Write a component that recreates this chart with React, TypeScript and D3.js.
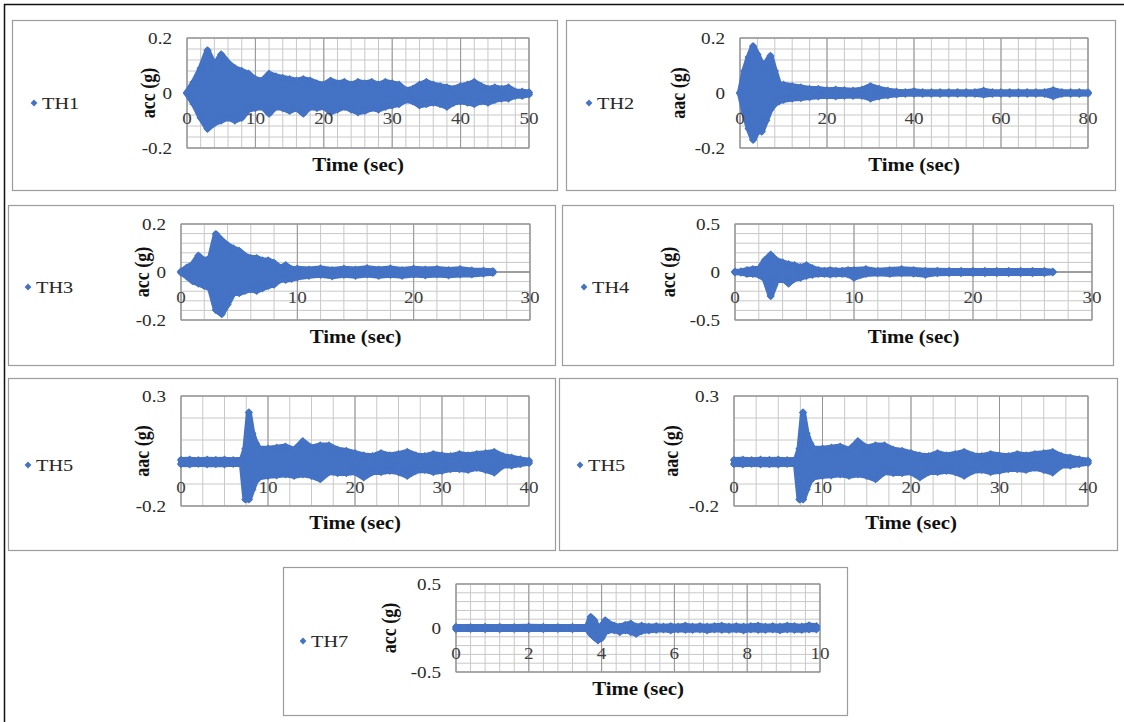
import React from 'react';
import * as d3 from 'd3';

const BLUE = '#4472C4';
const FONT = "'Liberation Serif','Times New Roman',serif";
const SX = 1.16;

// ---------- data (acceleration envelopes, g) ----------
const TH1_TIME = [0,1,2,3,4,5,6,7,8,9,10,11,12,13,14,15,16,17,18,19,20,21,22,23,24,25,26,27,28,29,30,31,32,33,34,35,36,37,38,39,40,41,42,43,44,45,46,47,48,49,50];
const TH1_UPPER = [0.002,0.04,0.09,0.155,0.10,0.14,0.11,0.09,0.08,0.07,0.05,0.045,0.07,0.06,0.055,0.05,0.045,0.05,0.045,0.035,0.03,0.045,0.035,0.04,0.03,0.04,0.035,0.04,0.03,0.04,0.035,0.03,0.01,0.015,0.03,0.04,0.03,0.025,0.02,0.015,0.025,0.03,0.04,0.025,0.015,0.02,0.015,0.02,0.005,0.005,0.002];
const TH1_LOWER = [-0.002,-0.04,-0.09,-0.13,-0.11,-0.10,-0.09,-0.10,-0.09,-0.06,-0.055,-0.05,-0.075,-0.05,-0.055,-0.065,-0.055,-0.075,-0.05,-0.055,-0.05,-0.07,-0.06,-0.05,-0.06,-0.07,-0.065,-0.055,-0.06,-0.05,-0.045,-0.04,-0.025,-0.03,-0.045,-0.04,-0.035,-0.04,-0.05,-0.035,-0.03,-0.035,-0.04,-0.03,-0.035,-0.025,-0.02,-0.02,-0.01,-0.01,-0.005];

const TH2_TIME = [0,1,2,3,4,5,6,7,8,9,10,12,14,16,18,20,22,24,26,28,30,32,34,36,38,40,42,44,46,48,50,52,54,56,58,60,62,64,66,68,70,72,74,76,78,80];
const TH2_UPPER = [0.002,0.08,0.13,0.17,0.14,0.105,0.11,0.135,0.08,0.03,0.03,0.025,0.02,0.015,0.015,0.01,0.012,0.01,0.008,0.012,0.025,0.015,0.008,0.005,0.003,0.006,0.003,0.003,0.003,0.003,0.003,0.003,0.003,0.008,0.003,0.003,0.003,0.003,0.003,0.003,0.003,0.01,0.003,0.003,0.003,0.002];
const TH2_LOWER = [-0.002,-0.07,-0.13,-0.17,-0.14,-0.14,-0.10,-0.06,-0.04,-0.03,-0.025,-0.02,-0.018,-0.015,-0.012,-0.01,-0.012,-0.01,-0.01,-0.01,-0.02,-0.012,-0.008,-0.005,-0.003,-0.003,-0.003,-0.003,-0.003,-0.003,-0.003,-0.003,-0.003,-0.006,-0.003,-0.003,-0.003,-0.003,-0.003,-0.003,-0.003,-0.012,-0.003,-0.003,-0.003,-0.002];

const TH3_TIME = [0,0.5,1,1.5,2,2.5,3,3.5,4,4.5,5,5.5,6,6.5,7,7.5,8,8.5,9,9.5,10,11,12,13,14,15,16,17,18,19,20,21,22,23,24,25,26,26.8];
const TH3_UPPER = [0.002,0.018,0.032,0.068,0.048,0.058,0.158,0.132,0.112,0.098,0.088,0.068,0.058,0.058,0.048,0.048,0.038,0.018,0.028,0.012,0.014,0.01,0.015,0.008,0.014,0.01,0.016,0.01,0.015,0.008,0.014,0.01,0.013,0.008,0.012,0.006,0.005,0.003];
const TH3_LOWER = [-0.002,-0.018,-0.038,-0.048,-0.058,-0.068,-0.158,-0.175,-0.135,-0.088,-0.088,-0.078,-0.072,-0.078,-0.068,-0.058,-0.052,-0.032,-0.032,-0.028,-0.022,-0.016,-0.012,-0.018,-0.012,-0.016,-0.01,-0.016,-0.012,-0.016,-0.01,-0.014,-0.01,-0.014,-0.01,-0.01,-0.006,-0.003];

const TH4_TIME = [0,0.5,1,1.5,2,2.5,3,3.5,4,4.5,5,5.5,6,6.5,7,7.5,8,8.5,9,9.5,10,11,12,13,14,15,16,17,18,19,20,21,22,23,24,25,26,26.7];
const TH4_UPPER = [0.003,0.005,0.02,0.03,0.03,0.12,0.18,0.12,0.10,0.08,0.07,0.05,0.07,0.04,0.02,0.012,0.02,0.012,0.012,0.02,0.02,0.03,0.012,0.02,0.03,0.02,0.012,0.012,0.01,0.01,0.01,0.01,0.01,0.01,0.01,0.01,0.01,0.003];
const TH4_LOWER = [-0.003,-0.005,-0.02,-0.02,-0.03,-0.07,-0.25,-0.09,-0.07,-0.12,-0.07,-0.06,-0.04,-0.03,-0.02,-0.02,-0.025,-0.02,-0.02,-0.025,-0.06,-0.02,-0.012,-0.02,-0.012,-0.015,-0.03,-0.012,-0.01,-0.01,-0.01,-0.01,-0.01,-0.01,-0.01,-0.01,-0.01,-0.003];

const TH5_TIME = [0,1,2,3,4,5,6,7,7.4,7.8,8.2,8.6,9,10,11,12,13,14,15,16,17,18,19,20,21,22,23,24,25,26,27,28,29,30,31,32,33,34,35,36,37,38,39,40];
const TH5_UPPER = [0.009,0.01,0.008,0.01,0.009,0.01,0.008,0.01,0.06,0.225,0.13,0.085,0.06,0.06,0.065,0.07,0.055,0.094,0.065,0.075,0.075,0.056,0.05,0.04,0.03,0.026,0.04,0.03,0.036,0.046,0.03,0.026,0.036,0.03,0.026,0.036,0.03,0.036,0.04,0.046,0.026,0.02,0.012,0.006];
const TH5_LOWER = [-0.009,-0.01,-0.008,-0.01,-0.009,-0.01,-0.008,-0.01,-0.17,-0.17,-0.125,-0.085,-0.07,-0.063,-0.06,-0.056,-0.063,-0.056,-0.063,-0.078,-0.046,-0.05,-0.05,-0.046,-0.07,-0.046,-0.046,-0.04,-0.046,-0.063,-0.04,-0.036,-0.046,-0.04,-0.032,-0.032,-0.036,-0.026,-0.036,-0.048,-0.016,-0.016,-0.009,-0.004];

const TH7_TIME = [0,0.4,0.8,1.2,1.6,2.0,2.4,2.8,3.2,3.6,3.7,3.8,3.9,4.0,4.1,4.2,4.35,4.5,4.65,4.8,4.95,5.1,5.3,5.5,5.7,5.9,6.1,6.3,6.5,6.7,6.9,7.1,7.3,7.5,7.7,7.9,8.1,8.3,8.5,8.7,8.9,9.1,9.3,9.5,9.7,9.9];
const TH7_UPPER = [0.012,0.01,0.012,0.012,0.01,0.014,0.012,0.01,0.012,0.014,0.125,0.085,0.0,0.025,0.085,0.055,0.025,0.015,0.035,0.05,0.015,0.025,0.015,0.02,0.015,0.02,0.015,0.025,0.015,0.02,0.015,0.02,0.025,0.015,0.02,0.015,0.02,0.025,0.015,0.02,0.015,0.025,0.02,0.015,0.03,0.02];
const TH7_LOWER = [-0.012,-0.01,-0.012,-0.012,-0.01,-0.012,-0.012,-0.01,-0.012,-0.012,-0.065,-0.105,-0.14,-0.115,-0.045,-0.025,-0.025,-0.045,-0.025,-0.045,-0.065,-0.035,-0.025,-0.02,-0.015,-0.025,-0.015,-0.02,-0.02,-0.015,-0.025,-0.015,-0.02,-0.02,-0.015,-0.025,-0.015,-0.02,-0.02,-0.015,-0.025,-0.015,-0.02,-0.02,-0.015,-0.015];

// ---------- axis definitions ----------
const Y_TICKS_02 = [-0.2, 0, 0.2];
const Y_TICKS_05 = [-0.5, 0, 0.5];
const Y_TICKS_TH5 = [-0.2, 0.3];
const X_TICKS_50 = [0, 10, 20, 30, 40, 50];
const X_TICKS_80 = [0, 20, 40, 60, 80];
const X_TICKS_30 = [0, 10, 20, 30];
const X_TICKS_40 = [0, 10, 20, 30, 40];
const X_TICKS_10 = [0, 2, 4, 6, 8, 10];

type Spec = {
  name: string; ylabel: string;
  box: [number, number, number, number];
  plot: [number, number, number, number];
  xMax: number; xTicks: number[]; xMinor: number;
  yDomain: [number, number]; yTicks: number[]; yMinor: number;
  legend: [number, number]; ylabelX: number;
  time: number[]; upper: number[]; lower: number[];
};

const PANELS: Spec[] = [
  { name: 'TH1', ylabel: 'acc (g)', box: [12, 20, 545, 170], plot: [187, 38, 529, 148], xMax: 50, xTicks: X_TICKS_50, xMinor: 2,
    yDomain: [-0.2, 0.2], yTicks: Y_TICKS_02, yMinor: 0.04, legend: [34, 103], ylabelX: 148, time: TH1_TIME, upper: TH1_UPPER, lower: TH1_LOWER },
  { name: 'TH2', ylabel: 'aac (g)', box: [566, 20, 549, 170], plot: [740, 38, 1088, 148], xMax: 80, xTicks: X_TICKS_80, xMinor: 4,
    yDomain: [-0.2, 0.2], yTicks: Y_TICKS_02, yMinor: 0.04, legend: [589, 103], ylabelX: 678, time: TH2_TIME, upper: TH2_UPPER, lower: TH2_LOWER },
  { name: 'TH3', ylabel: 'acc (g)', box: [8, 205, 547, 160], plot: [181, 224, 530, 320], xMax: 30, xTicks: X_TICKS_30, xMinor: 2,
    yDomain: [-0.2, 0.2], yTicks: Y_TICKS_02, yMinor: 0.04, legend: [28, 287], ylabelX: 142, time: TH3_TIME, upper: TH3_UPPER, lower: TH3_LOWER },
  { name: 'TH4', ylabel: 'acc (g)', box: [562, 205, 551, 160], plot: [735, 224, 1092, 320], xMax: 30, xTicks: X_TICKS_30, xMinor: 2,
    yDomain: [-0.5, 0.5], yTicks: Y_TICKS_05, yMinor: 0.1, legend: [584, 287], ylabelX: 668, time: TH4_TIME, upper: TH4_UPPER, lower: TH4_LOWER },
  { name: 'TH5', ylabel: 'aac (g)', box: [8, 378, 547, 172], plot: [181, 396, 529, 506], xMax: 40, xTicks: X_TICKS_40, xMinor: 2.5,
    yDomain: [-0.2, 0.3], yTicks: Y_TICKS_TH5, yMinor: 0.1, legend: [28, 465], ylabelX: 142, time: TH5_TIME, upper: TH5_UPPER, lower: TH5_LOWER },
  { name: 'TH5', ylabel: 'aac (g)', box: [559, 378, 558, 172], plot: [734, 396, 1088, 506], xMax: 40, xTicks: X_TICKS_40, xMinor: 2.5,
    yDomain: [-0.2, 0.3], yTicks: Y_TICKS_TH5, yMinor: 0.1, legend: [580, 465], ylabelX: 671, time: TH5_TIME, upper: TH5_UPPER, lower: TH5_LOWER },
  { name: 'TH7', ylabel: 'acc (g)', box: [283, 567, 564, 148], plot: [456, 584, 820, 672], xMax: 10, xTicks: X_TICKS_10, xMinor: 0.4,
    yDomain: [-0.5, 0.5], yTicks: Y_TICKS_05, yMinor: 0.1, legend: [303, 641], ylabelX: 389, time: TH7_TIME, upper: TH7_UPPER, lower: TH7_LOWER },
];

const diamond = (r: number) => `M0,${-r}L${r},0L0,${r}L${-r},0Z`;

function Txt(props: { x: number; y: number; anchor?: string; size: number; weight?: string; fill?: string; rotate?: boolean; children: React.ReactNode }) {
  const { x, y, anchor = 'middle', size, weight = 'normal', fill = '#222', rotate, children } = props;
  const tr = `translate(${x},${y}) scale(${SX},1)` + (rotate ? ' rotate(-90)' : '');
  return (
    <text transform={tr} textAnchor={anchor as any} dominantBaseline="central" fontSize={size} fontWeight={weight} fontFamily={FONT} fill={fill}>
      {children}
    </text>
  );
}

function Panel({ p }: { p: Spec }) {
  const [px0, py0, px1, py1] = p.plot;
  const x = d3.scaleLinear().domain([0, p.xMax]).range([px0, px1]);
  const y = d3.scaleLinear().domain(p.yDomain).range([py1, py0]);
  const minorX = d3.range(0, p.xMax + 1e-9, p.xMinor);
  const minorY = d3.range(p.yDomain[0], p.yDomain[1] + 1e-9, p.yMinor);
  const idx = p.time.map((_, i) => i);
  const area = d3.area<number>()
    .x(i => x(p.time[i]))
    .y0(i => y(p.lower[i]))
    .y1(i => y(p.upper[i]));
  const zeroY = y(0);
  const [bx, by, bw, bh] = p.box;
  return (
    <g>
      <rect x={bx + 0.5} y={by + 0.5} width={bw} height={bh} fill="#fff" stroke="#9c9c9c" strokeWidth={1.2} />
      {minorX.map((v, i) => (
        <line key={'mx' + i} x1={x(v)} x2={x(v)} y1={py0} y2={py1} stroke="#c8c8c8" strokeWidth={1} />
      ))}
      {minorY.map((v, i) => (
        <line key={'my' + i} x1={px0} x2={px1} y1={y(v)} y2={y(v)} stroke="#c8c8c8" strokeWidth={1} />
      ))}
      {p.xTicks.map((v, i) => (
        <line key={'Mx' + i} x1={x(v)} x2={x(v)} y1={py0} y2={py1} stroke="#959595" strokeWidth={1} />
      ))}
      {p.yTicks.map((v, i) => (
        <line key={'My' + i} x1={px0} x2={px1} y1={y(v)} y2={y(v)} stroke="#959595" strokeWidth={1} />
      ))}
      <rect x={px0} y={py0} width={px1 - px0} height={py1 - py0} fill="none" stroke="#959595" strokeWidth={1} />
      <line x1={px0} x2={px1} y1={zeroY} y2={zeroY} stroke="#808080" strokeWidth={1} />
      <path d={area(idx) || ''} fill={BLUE} stroke={BLUE} strokeWidth={6} strokeLinejoin="round" />
      {idx.map(i => (
        <g key={'m' + i}>
          <path d={diamond(4.2)} transform={`translate(${x(p.time[i])},${y(p.upper[i])})`} fill={BLUE} />
          <path d={diamond(4.2)} transform={`translate(${x(p.time[i])},${y(p.lower[i])})`} fill={BLUE} />
        </g>
      ))}
      {p.xTicks.map((v, i) => (
        <Txt key={'xt' + i} x={x(v)} y={zeroY + 25} size={16.5} fill="#404040">{String(v)}</Txt>
      ))}
      {p.yTicks.map((v, i) => (
        <Txt key={'yt' + i} x={px0 - 15} y={y(v)} anchor="end" size={16.5} fill="#2a2a2a">{String(v)}</Txt>
      ))}
      <Txt x={(px0 + px1) / 2} y={py1 + 17} size={18} weight="bold" fill="#111">Time (sec)</Txt>
      <Txt x={p.ylabelX} y={(py0 + py1) / 2} size={18} weight="bold" fill="#111" rotate>{p.ylabel}</Txt>
      <path d={diamond(3.4)} transform={`translate(${p.legend[0]},${p.legend[1]})`} fill={BLUE} />
      <Txt x={p.legend[0] + 8} y={p.legend[1]} anchor="start" size={17.5} fill="#262626">{p.name}</Txt>
    </g>
  );
}

export default function App() {
  return (
    <svg width={1124} height={722} style={{ position: 'absolute', left: 0, top: 0, background: '#fff' }}>
      <rect x={0} y={0} width={1124} height={722} fill="#fff" />
      <rect x={4.5} y={4.5} width={1200} height={800} fill="none" stroke="#111" strokeWidth={1.5} />
      {PANELS.map((p, i) => (
        <Panel key={i} p={p} />
      ))}
    </svg>
  );
}
